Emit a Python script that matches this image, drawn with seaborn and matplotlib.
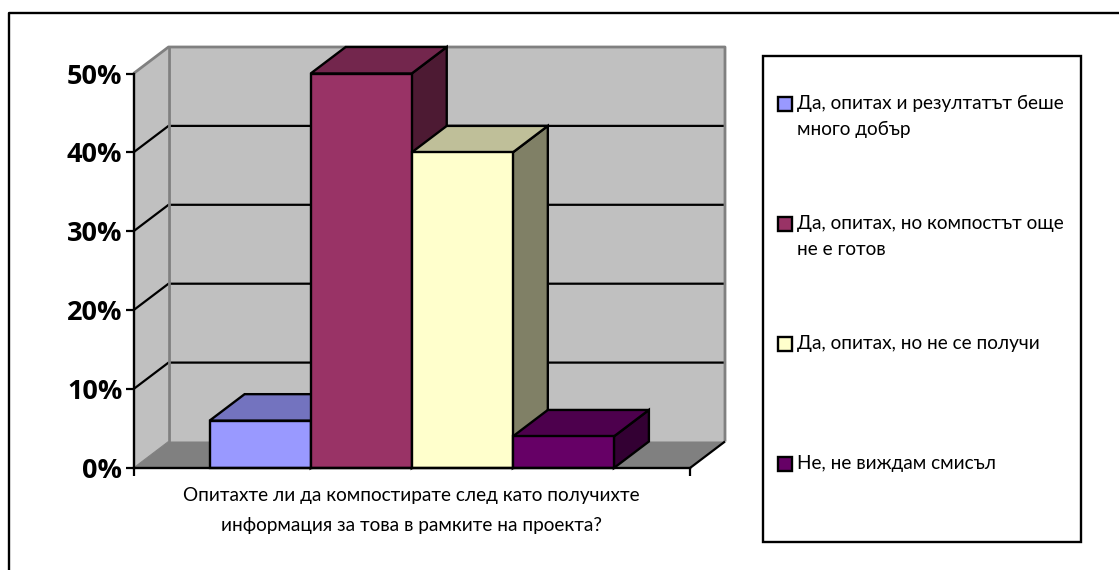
import matplotlib
matplotlib.use('Agg')
import matplotlib.pyplot as plt
from matplotlib.patches import Polygon, Rectangle
from matplotlib.lines import Line2D
import pandas as pd
import seaborn as sns

answers = ['Да, опитах и резултатът беше\nмного добър',
           'Да, опитах, но компостът още\nне е готов',
           'Да, опитах, но не се получи',
           'Не, не виждам смисъл']
values = [6, 50, 40, 4]
colors = ['#9999FF', '#993366', '#FFFFCC', '#660066']
question = 'Опитахте ли да компостирате след като получихте\nинформация за това в рамките на проекта?'
y_ticks = [0, 10, 20, 30, 40, 50]
y_labels = ['0%', '10%', '20%', '30%', '40%', '50%']

W, H = 1119, 570
sns.set_theme(style='white')
plt.rcParams['font.family'] = ['Lato', 'Open Sans', 'DejaVu Sans']

df = pd.DataFrame({'question': ['q'] * 4, 'answer': answers, 'value': values})

fig = plt.figure(figsize=(W / 100, H / 100), dpi=100)
ax = fig.add_axes([133.5 / W, 1 - 468 / H, 556.5 / W, 394.5 / H])
ax.patch.set_alpha(0)

sns.barplot(data=df, x='question', y='value', hue='answer', hue_order=answers,
            palette=dict(zip(answers, colors)), width=0.7265, saturation=1,
            edgecolor='black', linewidth=1.7, legend=False, ax=ax)
ax.set_xlim(-0.5, 0.5)
ax.set_ylim(0, 50)

# depth of the fake 3d box, in data units
dx = 35 / 556.5
dy = 26.5 / 394.5 * 50
x0, x1 = -0.5, 0.5
grey = '#808080'


def poly(pts, color, z, edge='none', lw=0):
    ax.add_patch(Polygon(pts, closed=True, facecolor=color, edgecolor=edge, linewidth=lw,
                         zorder=z, clip_on=False, joinstyle='miter'))


def line(xs, ys, color, lw, z):
    ax.add_line(Line2D(xs, ys, color=color, linewidth=lw, zorder=z, clip_on=False,
                       solid_capstyle='butt'))


# walls and floor
poly([(x0 + dx, dy), (x1 + dx, dy), (x1 + dx, 50 + dy), (x0 + dx, 50 + dy)], '#C0C0C0', 0.1)
poly([(x0, 0), (x0 + dx, dy), (x0 + dx, 50 + dy), (x0, 50)], '#C0C0C0', 0.1)
poly([(x0, 0), (x1, 0), (x1 + dx, dy), (x0 + dx, dy)], grey, 0.2)
line([x0, x0 + dx, x0 + dx, x1 + dx, x1 + dx], [50, 50 + dy, 50 + dy, 50 + dy, dy], grey, 2, 0.4)
line([x0 + dx, x0 + dx], [dy, 50 + dy], grey, 2, 0.4)
line([x0, x0 + dx], [0, dy], grey, 0.8, 0.4)
line([x1, x1 + dx], [0, dy], 'black', 1.6, 0.5)

for v in y_ticks[1:-1]:
    line([x0, x0 + dx, x1 + dx], [v, v + dy, v + dy], 'black', 1.6, 0.3)

# side and top faces of each bar, built from the bars seaborn drew
for i, bar in enumerate(ax.patches[:len(values)]):
    left, w, h = bar.get_x(), bar.get_width(), bar.get_height()
    c = bar.get_facecolor()
    dark = tuple(k * 0.5 for k in c[:3])
    mid = tuple(k * 0.75 for k in c[:3])
    z = 1 + i
    poly([(left + w, 0), (left + w + dx, dy), (left + w + dx, h + dy), (left + w, h)], dark, z, 'black', 1.7)
    poly([(left, h), (left + w, h), (left + w + dx, h + dy), (left + dx, h + dy)], mid, z, 'black', 1.7)
    bar.set_zorder(z + 0.5)
    bar.set_clip_on(False)

ax.set_yticks(y_ticks)
ax.set_yticklabels(y_labels, fontsize=19.5, fontweight='bold', color='black', family=['Open Sans', 'DejaVu Sans'])
ax.set_xticks([x0, x1])
ax.set_xticklabels(['', ''])
ax.tick_params(axis='both', length=6, width=1.6, color='black', left=True, bottom=True, pad=2)
ax.set_xlabel(question, fontsize=13.7, color='black', labelpad=6, linespacing=1.87)
ax.set_ylabel('')
sns.despine(ax=ax)
for side in ['left', 'bottom']:
    ax.spines[side].set_color('black')
    ax.spines[side].set_linewidth(1.7)
    ax.spines[side].set_zorder(12)

# outer chart border: only the left and top edges fall inside the crop
fig.add_artist(Line2D([9 / W, 9 / W, 1], [0, 1 - 13 / H, 1 - 13 / H], color='black', linewidth=1.7))

# legend box
fig.add_artist(Rectangle((762.5 / W, 1 - 541.5 / H), 318 / W, 485.5 / H, transform=fig.transFigure,
                         facecolor='white', edgecolor='black', linewidth=1.7))
legend_y = [103.5, 224, 344, 463.5]
for label, color, y in zip(answers, colors, legend_y):
    fig.add_artist(Rectangle((777.5 / W, 1 - (y + 7) / H), 14 / W, 14 / H, transform=fig.transFigure,
                             facecolor=color, edgecolor='black', linewidth=1.7))
    fig.text(797 / W, 1 - (y - 9) / H, label, fontsize=13.7, color='black', va='top', ha='left', linespacing=1.66)

fig.savefig('out.png', dpi=100)
